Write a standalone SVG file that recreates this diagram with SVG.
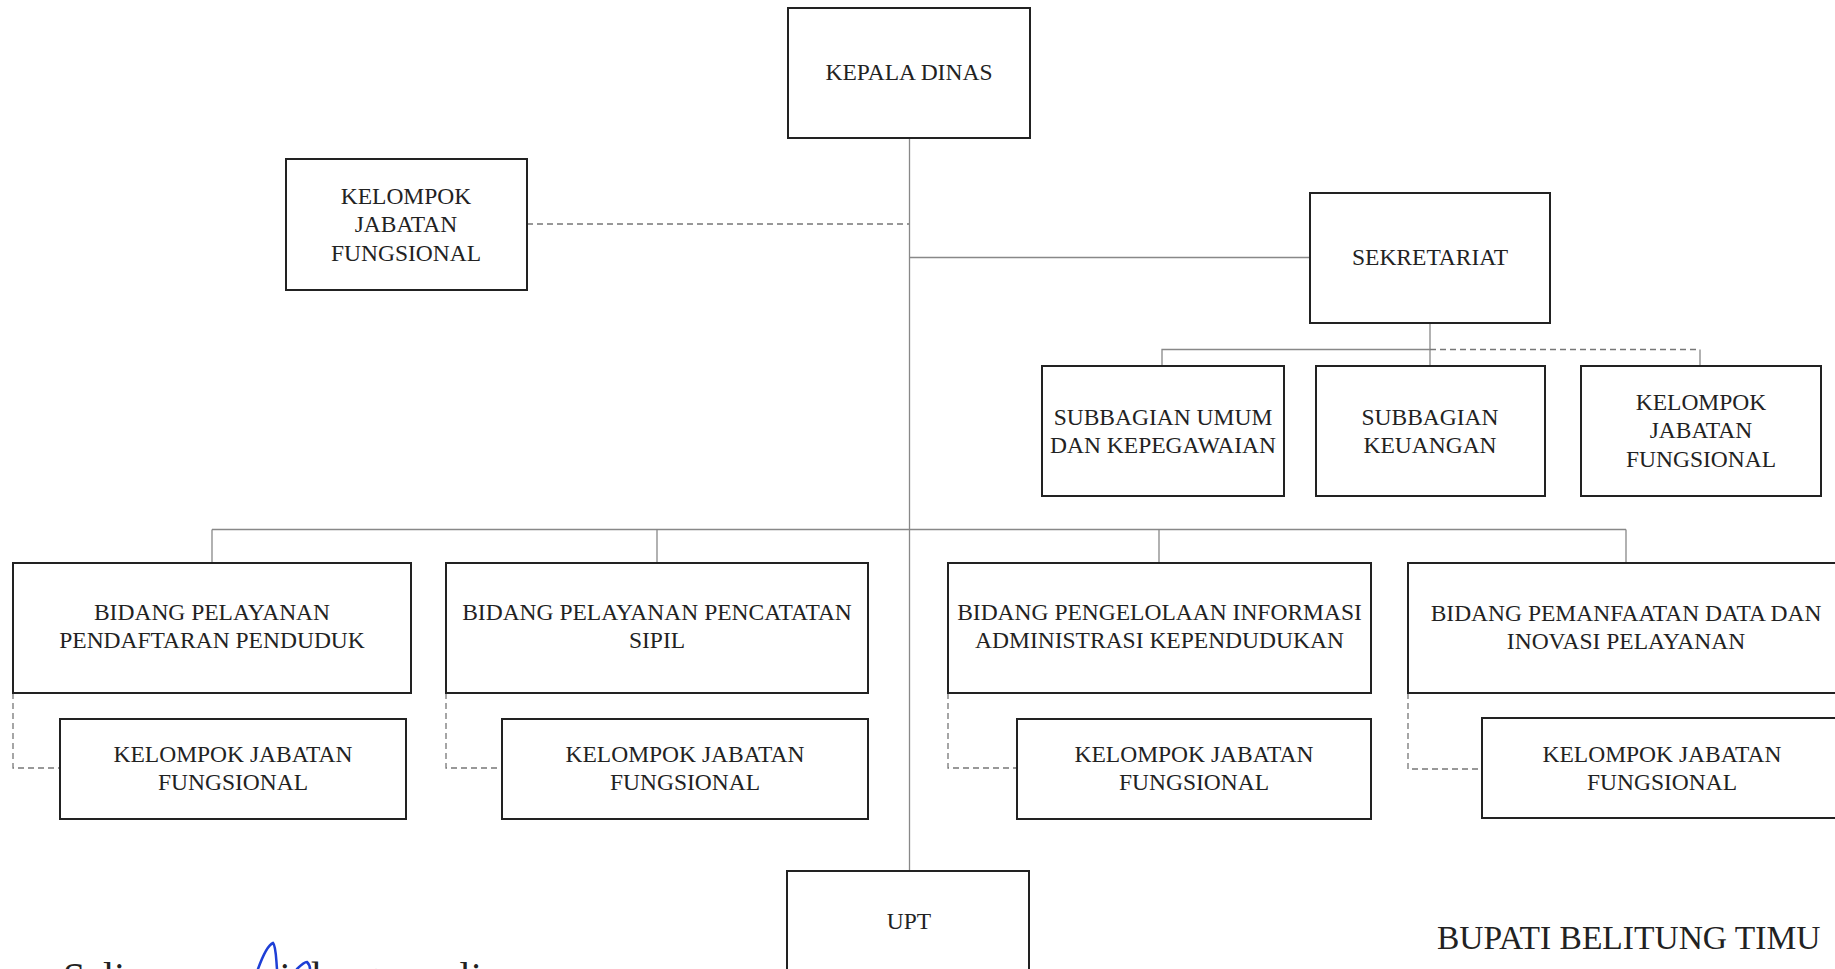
<svg xmlns="http://www.w3.org/2000/svg" width="1835" height="969" viewBox="0 0 1835 969">
<style>
.box{fill:#fff;stroke:#222;stroke-width:2}
.t{font-family:"Liberation Serif","Times New Roman",serif;font-size:23.5px;fill:#222;text-anchor:middle}
.ln{stroke:#888;stroke-width:1.3;fill:none}
.dl{stroke:#777;stroke-width:1.3;fill:none;stroke-dasharray:6 4}
</style>
<rect x="0" y="0" width="1835" height="969" fill="#fff"/>
<g id="connectors">
<line class="ln" x1="909.5" y1="138" x2="909.5" y2="871"/>
<line class="dl" x1="527" y1="224" x2="909" y2="224"/>
<line class="ln" x1="909" y1="257.5" x2="1310" y2="257.5"/>
<line class="ln" x1="1430" y1="323" x2="1430" y2="366"/>
<polyline class="ln" points="1162,366 1162,349.5 1430,349.5"/>
<line class="dl" x1="1430" y1="349.5" x2="1700" y2="349.5"/>
<line class="ln" x1="1700" y1="349.5" x2="1700" y2="366"/>
<line class="ln" x1="212" y1="529.5" x2="1626" y2="529.5"/>
<line class="ln" x1="212" y1="529.5" x2="212" y2="563"/>
<line class="ln" x1="657" y1="529.5" x2="657" y2="563"/>
<line class="ln" x1="1159" y1="529.5" x2="1159" y2="563"/>
<line class="ln" x1="1626" y1="529.5" x2="1626" y2="563"/>
<polyline class="dl" points="13,693 13,768 60,768"/>
<polyline class="dl" points="446,693 446,768 502,768"/>
<polyline class="dl" points="948,693 948,768 1017,768"/>
<polyline class="dl" points="1408,693 1408,769 1482,769"/>
</g>
<g id="kepala-dinas">
<rect class="box" x="788" y="8" width="242" height="130"/>
<text class="t" x="909" y="80">KEPALA DINAS</text>
</g>
<g id="kjf-kepala">
<rect class="box" x="286" y="159" width="241" height="131"/>
<text class="t" x="406" y="204">KELOMPOK</text>
<text class="t" x="406" y="232">JABATAN</text>
<text class="t" x="406" y="261">FUNGSIONAL</text>
</g>
<g id="sekretariat">
<rect class="box" x="1310" y="193" width="240" height="130"/>
<text class="t" x="1430" y="265">SEKRETARIAT</text>
</g>
<g id="subbagian-umum">
<rect class="box" x="1042" y="366" width="242" height="130"/>
<text class="t" x="1163" y="425">SUBBAGIAN UMUM</text>
<text class="t" x="1163" y="453">DAN KEPEGAWAIAN</text>
</g>
<g id="subbagian-keuangan">
<rect class="box" x="1316" y="366" width="229" height="130"/>
<text class="t" x="1430" y="425">SUBBAGIAN</text>
<text class="t" x="1430" y="453">KEUANGAN</text>
</g>
<g id="kjf-sekretariat">
<rect class="box" x="1581" y="366" width="240" height="130"/>
<text class="t" x="1701" y="410">KELOMPOK</text>
<text class="t" x="1701" y="438">JABATAN</text>
<text class="t" x="1701" y="467">FUNGSIONAL</text>
</g>
<g id="bidang-pendaftaran">
<rect class="box" x="13" y="563" width="398" height="130"/>
<text class="t" x="212" y="620">BIDANG PELAYANAN</text>
<text class="t" x="212" y="648">PENDAFTARAN PENDUDUK</text>
</g>
<g id="kjf-pendaftaran">
<rect class="box" x="60" y="719" width="346" height="100"/>
<text class="t" x="233" y="762">KELOMPOK JABATAN</text>
<text class="t" x="233" y="790">FUNGSIONAL</text>
</g>
<g id="bidang-pencatatan">
<rect class="box" x="446" y="563" width="422" height="130"/>
<text class="t" x="657" y="620">BIDANG PELAYANAN PENCATATAN</text>
<text class="t" x="657" y="648">SIPIL</text>
</g>
<g id="kjf-pencatatan">
<rect class="box" x="502" y="719" width="366" height="100"/>
<text class="t" x="685" y="762">KELOMPOK JABATAN</text>
<text class="t" x="685" y="790">FUNGSIONAL</text>
</g>
<g id="bidang-informasi">
<rect class="box" x="948" y="563" width="423" height="130"/>
<text class="t" x="1159.5" y="620">BIDANG PENGELOLAAN INFORMASI</text>
<text class="t" x="1159.5" y="648">ADMINISTRASI KEPENDUDUKAN</text>
</g>
<g id="kjf-informasi">
<rect class="box" x="1017" y="719" width="354" height="100"/>
<text class="t" x="1194" y="762">KELOMPOK JABATAN</text>
<text class="t" x="1194" y="790">FUNGSIONAL</text>
</g>
<g id="bidang-pemanfaatan">
<rect class="box" x="1408" y="563" width="436" height="130"/>
<text class="t" x="1626" y="621">BIDANG PEMANFAATAN DATA DAN</text>
<text class="t" x="1626" y="649">INOVASI PELAYANAN</text>
</g>
<g id="kjf-pemanfaatan">
<rect class="box" x="1482" y="718" width="362" height="100"/>
<text class="t" x="1662" y="762">KELOMPOK JABATAN</text>
<text class="t" x="1662" y="790">FUNGSIONAL</text>
</g>
<g id="upt">
<rect class="box" x="787" y="871" width="242" height="130"/>
<text class="t" x="909" y="929">UPT</text>
</g>
<text x="1437" y="949" font-family="Liberation Serif, 'Times New Roman', serif" font-size="33.5" fill="#222">BUPATI BELITUNG TIMU</text>
<text x="63" y="990" font-family="Liberation Serif, 'Times New Roman', serif" font-size="40" fill="#222">Salinan sesuai dengan aslinya</text>
<path d="M258,969 C262,958 268,945 273,943 C276,946 276,958 277,969 M297,969 C300,966 304,962 307,962 C309,964 310,967 310,969" fill="none" stroke="#1e3fd6" stroke-width="2.5" stroke-linecap="round"/>
</svg>
